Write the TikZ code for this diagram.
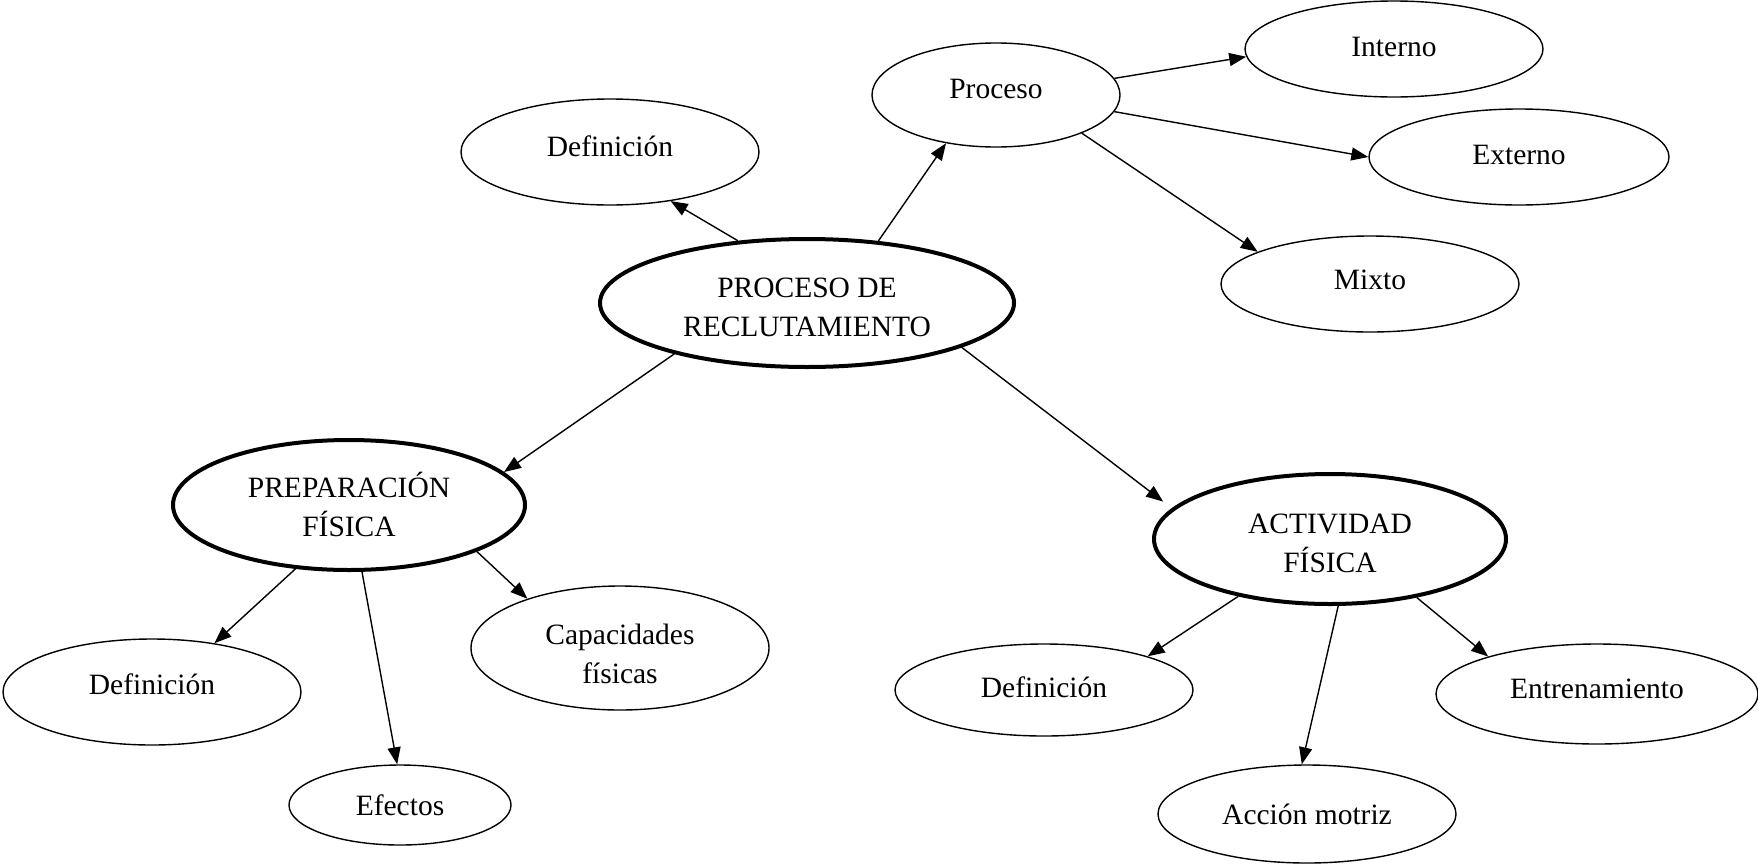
\documentclass[tikz,border=0pt]{standalone}
\usepackage{fontspec}
\setmainfont{Liberation Serif}
\usetikzlibrary{shapes.geometric,arrows.meta}
\newcommand{\tx}[2]{\raisebox{#1}[\height][\depth]{\begin{tabular}{@{}c@{}}#2\end{tabular}}}
\tikzset{
  bub/.style={ellipse, draw, line width=1.4pt, inner sep=0pt,
    font=\fontsize{29.5}{39}\selectfont},
  bigbub/.style={bub, line width=4pt},
  conn/.style={line width=1.4pt, -{Triangle[length=17pt,width=13pt]}}
}
\begin{document}
\begin{tikzpicture}[x=1pt,y=-1pt]
\useasboundingbox (0,0) rectangle (1758,865);
\node[bigbub, minimum width=414, minimum height=128] (main) at (807,303) {\tx{-6.5pt}{PROCESO DE\\RECLUTAMIENTO}};
\node[bub, minimum width=298, minimum height=106] (def1) at (610,152) {\tx{3.5pt}{Definición}};
\node[bub, minimum width=248, minimum height=104] (proc) at (996,95) {\tx{4.5pt}{Proceso}};
\node[bub, minimum width=298, minimum height=96] (int) at (1394,49) {\tx{0.5pt}{Interno}};
\node[bub, minimum width=300, minimum height=96] (ext) at (1519,157) {\tx{0.5pt}{Externo}};
\node[bub, minimum width=298, minimum height=96] (mix) at (1370,284) {\tx{2.5pt}{Mixto}};
\node[bigbub, minimum width=352, minimum height=130] (prep) at (349,505) {\tx{-4.5pt}{PREPARACIÓN\\FÍSICA}};
\node[bigbub, minimum width=352, minimum height=130] (act) at (1330,539) {\tx{-6.5pt}{ACTIVIDAD\\FÍSICA}};
\node[bub, minimum width=298, minimum height=106] (def2) at (152,692) {\tx{5.5pt}{Definición}};
\node[bub, minimum width=222, minimum height=80] (efe) at (400,805) {\tx{-3pt}{Efectos}};
\node[bub, minimum width=298, minimum height=124] (cap) at (620,648) {\tx{-8.5pt}{Capacidades\\físicas}};
\node[bub, minimum width=298, minimum height=92] (def3) at (1044,690) {\tx{0.5pt}{Definición}};
\node[bub, minimum width=298, minimum height=98] (acc) at (1307,814) {\tx{-3pt}{Acción motriz}};
\node[bub, minimum width=322, minimum height=100] (ent) at (1597,694) {\tx{3.5pt}{Entrenamiento}};

\draw[conn] (main.138.8) -- (def1.321);
\draw[conn] (main.41.2) -- (proc.224);
\draw[conn] (proc.8) -- (int.183);
\draw[conn] (proc.352) -- (ext.180);
\draw[conn] (proc.336.7) -- (mix.164);
\draw[conn] (main.201.6) -- (prep.12.9);
\draw[conn, shorten >=11pt] (main.344.4) -- (act.169.6);
\draw[conn] (prep.230) -- (def2.38.7);
\draw[conn] (prep.281) -- (efe.94);
\draw[conn] (prep.340.7) -- (cap.152.5);
\draw[conn] (act.212) -- (def3.18.6);
\draw[conn] (act.277) -- (acc.96);
\draw[conn] (act.326) -- (ent.161.4);
\end{tikzpicture}
\end{document}
